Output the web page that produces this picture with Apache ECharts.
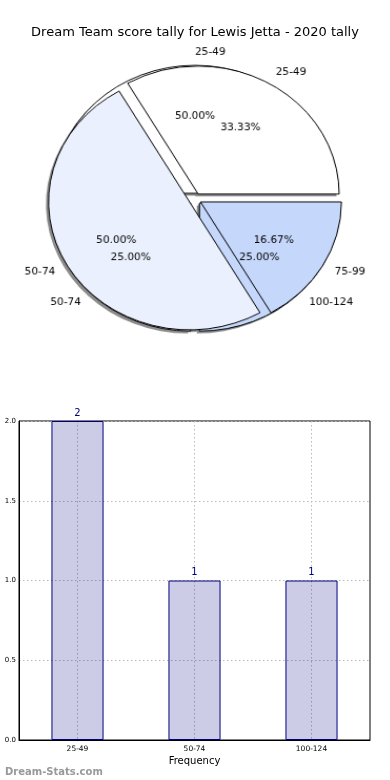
<!DOCTYPE html>
<html>
<head>
<meta charset="utf-8">
<script src="https://cdn.jsdelivr.net/npm/echarts@6/dist/echarts.min.js"></script>
<style>
html,body{margin:0;padding:0;background:#fff;}
#wrap{position:relative;width:390px;height:780px;}
#main{position:absolute;left:0;top:0;width:390px;height:780px;}
#pie{position:absolute;left:0;top:0;width:390px;height:400px;transform-origin:195px 199px;transform:scale(1.052,0.955);}
</style>
</head>
<body>
<div id="wrap"><div id="main"></div><div id="pie"></div></div>
<script>
// Pie A (frequency share, drawn underneath)
const pieALabels = ['25-49', '50-74', '100-124'];
const pieAValues = [2, 1, 1];
const pieAColors = ['#ffffff', '#eaf0fd', '#c5d8fc'];
// Pie B (drawn on top)
const pieBLabels = ['25-49', '50-74', '75-99'];
const pieBValues = [2, 3, 1];
const pieBColors = ['#ffffff', '#eaf0fd', '#c5d8fc'];
// Bar chart
const barCategories = ['25-49', '50-74', '100-124'];
const barValues = [2, 1, 1];
const yTicks = [0, 0.5, 1.0, 1.5, 2.0];

const FONT = 'DejaVu Sans';
const R = 134;
const CX = 195, CY = 199;
const EXPLODE = 6;
const SHADOW_DX = -2.5, SHADOW_DY = 2.5;
// inside labels sit at (r0 + r)/2 + 3px; place them at 0.6 * R
const PCT_R0 = 2 * (0.6 * R - 3) - R;

function pieData(labels, values, colors, mode) {
  return labels.map((l, i) => ({
    name: l,
    value: values[i],
    selected: true,
    itemStyle: mode === 'label' ? { color: 'rgba(0,0,0,0)', borderWidth: 0 }
      : mode === 'shadow' ? { color: '#8c8c8c', borderWidth: 0 }
      : { color: colors[i] }
  }));
}

function basePie(z, center, radius) {
  return {
    type: 'pie',
    z: z,
    center: center,
    radius: radius,
    startAngle: 0,
    clockwise: false,
    silent: true,
    animation: false,
    avoidLabelOverlap: false,
    selectedMode: 'multiple',
    selectedOffset: EXPLODE,
    emphasis: { disabled: true }
  };
}

function shadowPie(labels, values, z) {
  return Object.assign(basePie(z, [CX + SHADOW_DX, CY + SHADOW_DY], [0, R]), {
    label: { show: false },
    labelLine: { show: false },
    data: pieData(labels, values, null, 'shadow')
  });
}

function drawnPie(labels, values, colors, z) {
  return Object.assign(basePie(z, [CX, CY], [0, R]), {
    itemStyle: { borderColor: '#000', borderWidth: 1 },
    label: {
      show: true,
      position: 'outside',
      formatter: '{b}',
      fontFamily: FONT,
      fontSize: 10,
      color: '#000',
      distanceToLabelLine: 0
    },
    labelLine: { show: false, length: R * 0.1, length2: 0 },
    data: pieData(labels, values, colors, 'fill')
  });
}

function pctPie(labels, values, z) {
  return Object.assign(basePie(z, [CX, CY], [PCT_R0, R]), {
    label: {
      show: true,
      position: 'inside',
      formatter: p => p.percent.toFixed(2) + '%',
      fontFamily: FONT,
      fontSize: 10,
      color: '#000'
    },
    labelLine: { show: false },
    data: pieData(labels, values, null, 'label')
  });
}

const pie = echarts.init(document.getElementById('pie'), null, { renderer: 'canvas' });
pie.setOption({
  animation: false,
  series: [
    shadowPie(pieALabels, pieAValues, 1),
    shadowPie(pieBLabels, pieBValues, 1),
    drawnPie(pieALabels, pieAValues, pieAColors, 2),
    drawnPie(pieBLabels, pieBValues, pieBColors, 3),
    pctPie(pieALabels, pieAValues, 4),
    pctPie(pieBLabels, pieBValues, 5)
  ]
});

const chart = echarts.init(document.getElementById('main'), null, { renderer: 'canvas' });
chart.setOption({
  animation: false,
  backgroundColor: '#fff',
  title: [
    {
      text: 'Dream Team score tally for Lewis Jetta - 2020 tally',
      left: 'center',
      top: 21,
      textStyle: { fontFamily: FONT, fontSize: 13, fontWeight: 'normal', color: '#000' }
    },
    {
      text: 'Dream-Stats.com',
      left: 0,
      top: 762,
      textStyle: { fontFamily: FONT, fontSize: 10, fontWeight: 'bold', color: '#999999' }
    }
  ],
  grid: {
    left: 19, right: 20, top: 421, height: 319,
    show: true, borderColor: '#000', borderWidth: 1, backgroundColor: 'transparent'
  },
  xAxis: {
    type: 'category',
    data: barCategories,
    name: 'Frequency',
    nameLocation: 'middle',
    nameGap: 16,
    nameTextStyle: { fontFamily: FONT, fontSize: 10, color: '#000' },
    axisLine: { show: true, lineStyle: { color: '#000', width: 1 } },
    axisTick: { show: false },
    axisLabel: { fontFamily: FONT, fontSize: 7.5, color: '#000', margin: 5 },
    splitLine: { show: true, alignWithLabel: true, lineStyle: { type: [1.5, 2.5], color: '#b8b8b8', width: 1 } }
  },
  yAxis: {
    type: 'value',
    min: 0, max: 2, interval: 0.5,
    axisLine: { show: true, lineStyle: { color: '#000', width: 1 } },
    axisTick: { show: false },
    axisLabel: {
      fontFamily: FONT, fontSize: 7, color: '#000', margin: 3,
      formatter: v => (yTicks.indexOf(v) >= 0 ? v.toFixed(1) : '')
    },
    splitLine: { show: true, lineStyle: { type: [1.5, 2.5], color: '#b8b8b8', width: 1 } }
  },
  series: [
    {
      type: 'bar',
      data: barValues,
      barWidth: '44.5%',
      silent: true,
      itemStyle: { color: 'rgba(0,0,128,0.2)', borderColor: '#000080', borderWidth: 1 },
      label: { show: true, position: 'top', distance: 3, fontFamily: FONT, fontSize: 10, color: '#000080' },
      emphasis: { disabled: true }
    }
  ]
});
</script>
</body>
</html>
